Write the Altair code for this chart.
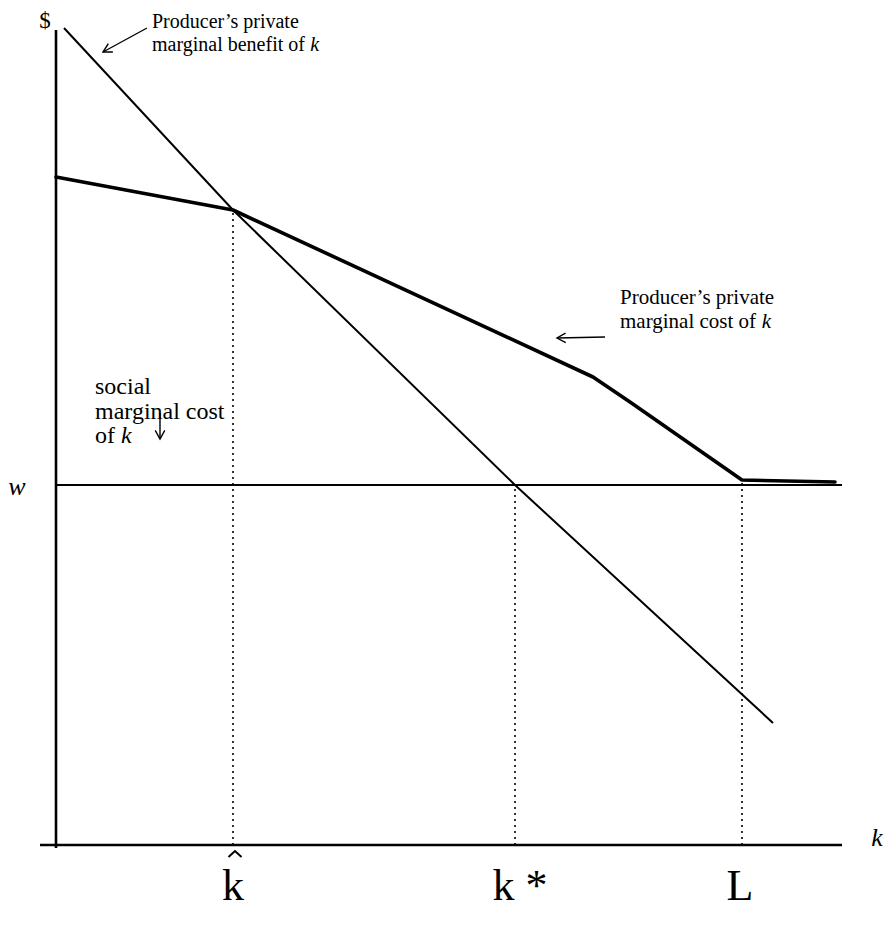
import math
import altair as alt
import pandas as pd

# ---------------- data (units: k along x, $ along y) ----------------
benefit_k = [8, 177, 459, 717]
benefit_v = [817, 635, 360, 122]

cost_k = [0, 177, 537, 574, 686, 779]
cost_v = [668, 635, 468, 443, 365, 363]

w_level = 360
k_hat, k_star, k_L = 177, 459, 686
k_hat_v, k_star_v, k_L_v = 635, 360, 363

tick_labels = ["k", "k *", "L"]
tick_pos = [177, 464, 684]

FONT = "Liberation Serif"

# ---------------- helpers ----------------
XS = alt.Scale(domain=[-48, 827], nice=False, zero=False)
YS = alt.Scale(domain=[-72, 837], nice=False, zero=False)

TW = {"m": 778, "a": 444, "r": 333, "g": 500, "i": 278, "n": 500, "l": 278,
      " ": 250, "b": 500, "e": 444, "f": 333, "t": 278, "o": 500, "c": 444, "s": 389}


def tw(s, fs):
    return sum(TW.get(ch, 500) for ch in s) * fs / 1000.0


def X(f="x"):
    return alt.X(f"{f}:Q", scale=XS, axis=None)


def Y(f="y"):
    return alt.Y(f"{f}:Q", scale=YS, axis=None)


# ---------------- curves ----------------
curves = pd.DataFrame(
    [{"x": k, "y": v, "s": "benefit", "o": i} for i, (k, v) in enumerate(zip(benefit_k, benefit_v))]
    + [{"x": k, "y": v, "s": "cost", "o": i} for i, (k, v) in enumerate(zip(cost_k, cost_v))]
)

benefit = alt.Chart(curves[curves.s == "benefit"]).mark_line(
    color="black", strokeWidth=2
).encode(x=X(), y=Y(), order="o:Q")

cost = alt.Chart(curves[curves.s == "cost"]).mark_line(
    color="black", strokeWidth=3.6, strokeJoin="round", strokeCap="round"
).encode(x=X(), y=Y(), order="o:Q")

# ---------------- axes & w line ----------------
solid_rules = pd.DataFrame([
    {"x": -16, "x2": 786, "y": 0, "y2": 0, "w": 2.6},        # k axis
    {"x": 0, "x2": 0, "y": -3, "y2": 815, "w": 2.6},         # $ axis
    {"x": 0, "x2": 786, "y": w_level, "y2": w_level, "w": 2},  # w
])
rules = alt.Chart(solid_rules).mark_rule(color="black").encode(
    x=X(), x2="x2:Q", y=Y(), y2="y2:Q",
    strokeWidth=alt.StrokeWidth("w:Q", scale=None),
)

dotted = pd.DataFrame([
    {"x": k_hat, "y": 0, "y2": k_hat_v},
    {"x": k_star, "y": 0, "y2": k_star_v},
    {"x": k_L, "y": 0, "y2": k_L_v},
])
dots = alt.Chart(dotted).mark_rule(
    color="black", strokeWidth=1.6, strokeDash=[2, 4]
).encode(x=X(), y=Y(), y2="y2:Q")

# ---------------- arrows ----------------
arrows = pd.DataFrame([
    {"x": 91, "y": 817, "x2": 47, "y2": 793},
    {"x": 549, "y": 508, "x2": 501, "y2": 507},
    {"x": 104, "y": 432, "x2": 104, "y2": 406},
])
arrows["ang"] = [
    (math.degrees(math.atan2(r.x2 - r.x, r.y2 - r.y)) + 360) % 360 for r in arrows.itertuples()
]
shafts = alt.Chart(arrows).mark_rule(color="black", strokeWidth=1.4).encode(
    x=X(), y=Y(), x2="x2:Q", y2="y2:Q"
)
heads = alt.Chart(arrows).mark_point(
    shape="M -0.55 1 L 0 0 L 0.55 1", filled=False, color="black",
    strokeWidth=1.4, size=300, opacity=1,
).encode(
    x=alt.X("x2:Q", scale=XS, axis=None),
    y=alt.Y("y2:Q", scale=YS, axis=None),
    angle=alt.Angle("ang:Q", scale=None),
)

# ---------------- annotation text ----------------
FL, FR, FS_ = 20, 21, 24
ann = pd.DataFrame([
    {"x": 96, "y": 823, "t": "Producer\u2019s private", "st": "normal", "fs": FL},
    {"x": 96, "y": 800, "t": "marginal benefit of", "st": "normal", "fs": FL},
    {"x": 96 + tw("marginal benefit of ", FL), "y": 800, "t": "k", "st": "italic", "fs": FL},
    {"x": 564, "y": 547, "t": "Producer\u2019s private", "st": "normal", "fs": FR},
    {"x": 564, "y": 523, "t": "marginal cost of", "st": "normal", "fs": FR},
    {"x": 564 + tw("marginal cost of ", FR), "y": 523, "t": "k", "st": "italic", "fs": FR},
    {"x": 39, "y": 458, "t": "social", "st": "normal", "fs": FS_},
    {"x": 39, "y": 433, "t": "marginal cost", "st": "normal", "fs": FS_},
    {"x": 39, "y": 409, "t": "of", "st": "normal", "fs": FS_},
    {"x": 39 + tw("of ", FS_), "y": 409, "t": "k", "st": "italic", "fs": FS_},
])
ann_norm = alt.Chart(ann[ann.st == "normal"]).mark_text(
    align="left", baseline="middle", font=FONT, color="black"
).encode(x=X(), y=Y(), text="t:N", size=alt.Size("fs:Q", scale=None))
ann_it = alt.Chart(ann[ann.st == "italic"]).mark_text(
    align="left", baseline="middle", font=FONT, fontStyle="italic", color="black"
).encode(x=X(), y=Y(), text="t:N", size=alt.Size("fs:Q", scale=None))

axis_lbl = pd.DataFrame([
    {"x": -11, "y": 824, "t": "$", "st": "normal"},
    {"x": -39, "y": 358, "t": "w", "st": "italic"},
    {"x": 821, "y": 7, "t": "k", "st": "italic"},
])
ax_norm = alt.Chart(axis_lbl[axis_lbl.st == "normal"]).mark_text(
    align="center", baseline="middle", font=FONT, fontSize=23, color="black"
).encode(x=X(), y=Y(), text="t:N")
ax_it = alt.Chart(axis_lbl[axis_lbl.st == "italic"]).mark_text(
    align="center", baseline="middle", font=FONT, fontSize=26, fontStyle="italic", color="black"
).encode(x=X(), y=Y(), text="t:N")

ticks = pd.DataFrame({"x": tick_pos, "y": [-55] * 3, "t": tick_labels})
tick_txt = alt.Chart(ticks).mark_text(
    align="center", baseline="alphabetic", font=FONT, fontSize=44, color="black"
).encode(x=X(), y=Y(), text="t:N")

# circumflex over the k-hat label, drawn as a caret symbol
hat = alt.Chart(pd.DataFrame({"x": [tick_pos[0] + 2], "y": [-9]})).mark_point(
    shape="M -1 0.45 L 0 -0.45 L 1 0.45", filled=False, color="black",
    strokeWidth=2, size=170, opacity=1,
).encode(x=X(), y=Y())

chart = alt.layer(
    rules, dots, benefit, cost, shafts, heads,
    ann_norm, ann_it, ax_norm, ax_it, tick_txt, hat,
).properties(
    width=875, height=909, padding=0, autosize="none", background="white"
).configure_view(stroke=None)

chart.save("out.html", embed_options={"renderer": "svg", "actions": False})
